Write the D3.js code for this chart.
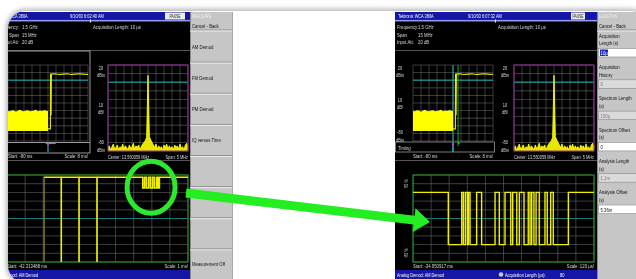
<!DOCTYPE html>
<html>
<head>
<meta charset="utf-8">
<script src="https://d3js.org/d3.v7.min.js"></script>
<style>
 body {margin:0; background:#fff;}
 text {font-family:"Liberation Sans",Arial,sans-serif;}
</style>
</head>
<body>
<svg width=636 height=279></svg>
<script>
var titleText = "Tektronix WCA 380A";
var dateLeft = "9/10/03 6:02:40 AM", dateRight = "9/10/03 6:07:32 AM";
var headerLabels = ["Frequency:", "Span", "Input Att:"];
var headerValues = ["1.5 GHz", "15 MHz", "20 dB"];
var acqText = "Acquisition Length: 10 µs";

// amplitude axis (dBm) of time overview + spectrum
var ampTicks = [20, -30, -80];
var ampTickText = [["20", "dBm"], ["10", "dB/"], ["-80", "dBm"]];

// time overview (ms): noisy burst, then carrier on
var burstT   = [-80,-78,-76,-74,-72,-70,-68,-66,-64,-62,-60,-58,-56,-54,-52,-50,-48,-46,-44,-42,-40];
var burstTop = [-40.5,-41,-39.5,-40,-41.5,-40,-39,-40.5,-41,-40,-39.5,-41,-40.5,-40,-39,-41,-40,-40.5,-39.5,-40,-41];
var burstFloor = -67;
var stepT = [-40,-37.6,-37.5,-37.1,-36.9,-36.6,-33,-29,-25,-21,-17,-13,-9,-5,-1,0];
var stepV = [-64,-64,8,8,-46,8,8.5,7.5,8,8.5,7.5,8,8.5,8,7.5,8];
var spectrumMark = -40;
var analysisStart = {left: -42.313488, right: -34.950917};   // ms
var analysisLength = {left: 10, right: 1.2};                 // ms

// spectrum: 13.560059 MHz centre, 5 MHz span, level per bin (dBm)
var specLevels = [
 -77,-74,-79,-75,-72,-78,-76,-73,-79,-75,
 -77,-72,-78,-74,-76,-79,-73,-77,-75,-71,
 -78,-74,-76,-73,-79,-75,-72,-70,-68,-64,
   8,
 -63,-67,-70,-73,-76,-72,-78,-74,-77,-75,
 -79,-73,-76,-72,-78,-74,-77,-75,-79,-73,
 -76,-74,-78,-72,-77,-75,-79,-73,-71,-76];

// AM demod right: level (%) and switching times (µs from start, 120 µs/div)
var demodHigh = 60, demodLow = -60;
var demodEdges = [234,323,334,347,360,367,378,422,455,544,572,610,648,661,688,705,736,764,776,787,802,816,837,875,890,913,930,1030];
var demodAxis = ["80 %", "0 %", "-80 %"];
// AM demod left: ms from start (1 ms/div)
var leftHigh = 95, leftBurstLow = 70, leftFloor = -100;
var leftDrops = [2.05, 3.0, 3.98, 4.97];
var leftBurstEdges = [7.5,7.6,7.7,7.82,7.92,8.04,8.14,8.26,8.34,8.42];

var measureItems = ["AM Demod","FM Demod","PM Demod","IQ versus Time","","","","Measurement Off"];
var lengthItems = [["Acquisition","Length (s)"],["Acquisition","History"],["Spectrum Length","(s)"],["Spectrum Offset","(s)"],["Analysis Length","(s)"],["Analysis Offset","(s)"]];
var lengthValues = ["10µ","0","150µ","0","1.1m","5.36m"];
var lengthEditable = [true,false,false,true,false,true];

// ---------- drawing ----------
var svg = d3.select("svg");
var defs = svg.append("defs");
defs.append("filter").attr("id","soft").attr("x","-5%").attr("y","-5%").attr("width","110%").attr("height","110%")
  .append("feGaussianBlur").attr("stdDeviation",2.5);
defs.append("filter").attr("id","jpeg").append("feGaussianBlur").attr("stdDeviation",0.3);
defs.append("clipPath").attr("id","card").append("rect")
  .attr("x",8).attr("y",11).attr("width",640).attr("height",272).attr("rx",18);

svg.append("rect").attr("x",6).attr("y",9).attr("width",644).attr("height",276).attr("rx",20)
  .attr("fill","#b4b4b4").attr("filter","url(#soft)");
var card = svg.append("g").attr("clip-path","url(#card)").append("g").attr("filter","url(#jpeg)");
card.append("rect").attr("x",8).attr("y",11).attr("width",640).attr("height",272).attr("fill","#fff");

// the analyzer font is narrow: squeeze Liberation Sans horizontally
function txt(g, x, y, s, o) {
  o = o || {};
  return g.append("text").attr("x",0).attr("y",0).text(s)
    .attr("transform", "translate(" + x + "," + y + ") scale(" + (o.sx || 0.78) + ",1)")
    .attr("font-size", o.size || 5.5)
    .attr("fill", o.fill || "#d8d8d8")
    .attr("text-anchor", o.anchor || "start");
}
function hline(g, x1, x2, y, c, w) {
  g.append("line").attr("x1",x1).attr("x2",x2).attr("y1",y).attr("y2",y).attr("stroke",c).attr("stroke-width",w||1);
}
function vline(g, x, y1, y2, c, w) {
  g.append("line").attr("x1",x).attr("x2",x).attr("y1",y1).attr("y2",y2).attr("stroke",c).attr("stroke-width",w||1);
}

function screen(cfg) {
  var g = card.append("g");
  var w = cfg.x1 - cfg.x0;
  g.append("rect").attr("x",cfg.x0).attr("y",12).attr("width",w).attr("height",268).attr("fill","#000");
  g.append("rect").attr("x",cfg.x0).attr("y",12).attr("width",w).attr("height",8).attr("fill","#1212a6");
  g.append("rect").attr("x",cfg.x0).attr("y",20).attr("width",w).attr("height",2).attr("fill","#2b3fd6");
  hline(g, cfg.x0, cfg.x1, 20.4, "#b8c4ff", 0.8);
  g.append("rect").attr("x",cfg.tick).attr("y",19.5).attr("width",1).attr("height",3).attr("fill","#fff");
  txt(g, cfg.x0 + 3, 18, titleText, {size:5, fill:"#fff"});
  txt(g, cfg.dateX, 18, cfg.date, {size:5, fill:"#fff"});
  g.append("rect").attr("x",cfg.pause[0]).attr("y",12.5).attr("width",cfg.pause[1]).attr("height",7).attr("fill","#ececec");
  txt(g, cfg.pause[0] + cfg.pause[1]/2, 18, "PAUSE", {size:4.8, fill:"#222", anchor:"middle", sx:0.7});
  headerLabels.forEach(function(s, i) {
    txt(g, cfg.labX, 29 + i*7.5, s, {anchor:cfg.labAnchor});
    txt(g, cfg.valX, 29 + i*7.5, headerValues[i]);
  });
  txt(g, cfg.acqX, 29, acqText);
  hline(g, cfg.x0, cfg.x1, 50.5, "#555");
  hline(g, cfg.x0, cfg.x1, 160.5, "#555");
  g.append("rect").attr("x",cfg.x0).attr("y",270).attr("width",w).attr("height",10).attr("fill","#1212a6");
  txt(g, cfg.x0 + 2, 277, "Analog Demod: AM Demod", {size:5, fill:"#fff"});
  return g;
}

function ampLabels(g, y, cx) {
  var offs = [[4.5, 12], [-1, 6], [-7, 0.5]];
  ampTicks.forEach(function(v, i) {
    txt(g, cx, y(v) + offs[i][0], ampTickText[i][0], {size:5, anchor:"middle"});
    txt(g, cx, y(v) + offs[i][1], ampTickText[i][1], {size:5, anchor:"middle"});
  });
}

function grid(g, xr, yr) {
  var dx = d3.scaleLinear().domain([0,10]).range(xr);
  var dy = d3.scaleLinear().domain([0,10]).range(yr);
  var gg = g.append("g");
  dx.ticks(10).forEach(function(t){ vline(gg, dx(t), yr[0], yr[1], "#686868", 0.6); });
  dy.ticks(10).forEach(function(t){ hline(gg, xr[0], xr[1], dy(t), "#686868", 0.6); });
}

function timePanel(g, cfg) {
  var x = d3.scaleLinear().domain([-80,0]).range(cfg.tx);
  var y = d3.scaleLinear().domain([20,-80]).range([65,141]);
  grid(g, cfg.tx, [65,141]);
  hline(g, cfg.tx[0], cfg.tx[1], y(0), "#1aa8a8", 1);
  if (cfg.markLines) {
    vline(g, x(spectrumMark), 65, 152, "#1aa8a8", 1);
    vline(g, x(analysisStart.right), 65, 146, "#1faa1f", 1);
  }
  g.append("path").datum(burstT)
    .attr("d", d3.area().x(function(t){return x(t);}).y0(y(burstFloor)).y1(function(t,i){return y(burstTop[i]);}))
    .attr("fill","#ffff00");
  g.append("path").datum(stepT)
    .attr("d", d3.line().x(function(t){return x(t);}).y(function(t,i){return y(stepV[i]);}))
    .attr("fill","none").attr("stroke","#e8e800").attr("stroke-width",1.1);
  ampLabels(g, y, cfg.tLab);
  // timing strip
  var a0 = x(analysisStart[cfg.side]), a1 = x(analysisStart[cfg.side] + analysisLength[cfg.side]);
  g.append("rect").attr("x",a0).attr("y",142.2).attr("width",Math.max(a1 - a0, 1.5)).attr("height",1.8).attr("fill","#22cc22");
  vline(g, x(spectrumMark), 143, 152, "#1ab8c8", 1.2);
  g.append("rect").attr("x",x(spectrumMark) - 1).attr("y",143).attr("width",2).attr("height",2).attr("fill","#d040d0");
  txt(g, cfg.tx[0], 157.5, "Start: -80 ms");
  txt(g, cfg.tx[1], 157.5, "Scale: 8 ms/", {anchor:"end"});
  return x;
}

function specPanel(g, cfg) {
  var x = d3.scaleLinear().domain([0, specLevels.length - 1]).range(cfg.sx);
  var y = d3.scaleLinear().domain([20,-80]).range([65,151]);
  grid(g, cfg.sx, [65,151]);
  hline(g, cfg.sx[0], cfg.sx[1], y(0), "#1aa8a8", 1);
  g.append("path").datum(specLevels)
    .attr("d", d3.area().x(function(d,i){return x(i);}).y0(y(-80)).y1(function(d){return y(d);}))
    .attr("fill","#e6e600");
  g.append("path").datum(specLevels)
    .attr("d", d3.line().x(function(d,i){return x(i);}).y(function(d){return y(d);}))
    .attr("fill","none").attr("stroke","#ffff00").attr("stroke-width",0.9);
  g.append("rect").attr("x",cfg.sx[0]).attr("y",65).attr("width",cfg.sx[1]-cfg.sx[0]).attr("height",86)
    .attr("fill","none").attr("stroke","#9a2aa0").attr("stroke-width",1);
  ampLabels(g, y, cfg.sLab);
  txt(g, cfg.sx[0], 159, "Center: 13.560059 MHz", {size:5});
  txt(g, cfg.sx[1], 159, "Span: 5 MHz", {anchor:"end", size:5});
}

function demodFrame(g, dx) {
  var y = d3.scaleLinear().domain([100,-100]).range([175,262]);
  grid(g, dx, [175,262]);
  hline(g, dx[0], dx[1], y(0), "#148c8c", 0.8);
  g.append("rect").attr("x",dx[0]).attr("y",175).attr("width",dx[1]-dx[0]).attr("height",87)
    .attr("fill","none").attr("stroke","#1e9e1e").attr("stroke-width",1);
  return y;
}

// ----- left screen (MEASURE menu) -----
var L = screen({x0:-11, x1:190, tick:90, date:dateLeft, dateX:70, pause:[165,20], labX:19, labAnchor:"end", valX:22, acqX:93});
L.append("rect").attr("x",0).attr("y",51).attr("width",90).attr("height",102)
  .attr("fill","none").attr("stroke","#9a9a9a").attr("stroke-width",1);
timePanel(L, {tx:[8,88], tLab:-5, side:"left", markLines:false});
hline(L, 0, 90, 142.5, "#9a9a9a");
specPanel(L, {sx:[108,188], sLab:101});
var yL = demodFrame(L, [7,188]);
var xL = d3.scaleLinear().domain([0,10]).range([7,188]);
vline(L, xL(leftDrops[0]), yL(leftHigh), yL(leftFloor), "#8c8c1c", 1.2);
var lp = d3.path();
lp.moveTo(xL(leftDrops[0]), yL(leftHigh));
leftDrops.slice(1).forEach(function(t) {
  lp.lineTo(xL(t), yL(leftHigh)); lp.lineTo(xL(t), yL(leftFloor)); lp.lineTo(xL(t), yL(leftHigh));
});
var lev = leftHigh;
leftBurstEdges.forEach(function(t) {
  lp.lineTo(xL(t), yL(lev));
  lev = (lev === leftHigh) ? leftBurstLow : leftHigh;
  lp.lineTo(xL(t), yL(lev));
});
lp.lineTo(xL(10), yL(lev));
L.append("path").attr("d", lp.toString()).attr("fill","none").attr("stroke","#f0f000").attr("stroke-width",1.6);
txt(L, 7, 268, "Start: -42.313488 ms");
txt(L, 188, 268, "Scale: 1 ms/", {anchor:"end"});

// ----- right screen (LENGTHS menu) -----
var R = screen({x0:395, x1:597, tick:495, date:dateRight, dateX:468, pause:[571,14], labX:397, labAnchor:"start", valX:418, acqX:498});
R.append("rect").attr("x",395.5).attr("y",142).attr("width",99).attr("height",10)
  .attr("fill","none").attr("stroke","#9a9a9a").attr("stroke-width",0.8);
txt(R, 398, 149.5, "Timing");
timePanel(R, {tx:[413,493], tLab:400, side:"right", markLines:true});
specPanel(R, {sx:[514,594], sLab:505});
var yR = demodFrame(R, [413,594]);
var xR = d3.scaleLinear().domain([0,1200]).range([413,594]);
var pts = [[0, demodHigh]], lv = demodHigh;
demodEdges.forEach(function(e) {
  var nx = (lv === demodHigh) ? demodLow : demodHigh;
  pts.push([e, lv], [e, nx]);
  lv = nx;
});
pts.push([1200, lv]);
R.append("path").datum(pts)
  .attr("d", d3.line().x(function(d){return xR(d[0]);}).y(function(d){return yR(d[1]);}))
  .attr("fill","none").attr("stroke","#f0f000").attr("stroke-width",1.4);
[80, 0, -80].forEach(function(v, i) {
  txt(R, 0, 0, demodAxis[i], {size:4.5, anchor:"middle"})
    .attr("transform", "translate(408," + yR(v) + ") rotate(-90) scale(0.8,1)");
});
txt(R, 413, 268, "Start: -34.950917 ms");
txt(R, 594, 268, "Scale: 120 µs/", {anchor:"end"});
R.append("circle").attr("cx",501).attr("cy",274.5).attr("r",2.3).attr("fill","#c8c8c8");
txt(R, 505, 277, "Acquisition Length (µs):", {size:5, fill:"#fff"});
txt(R, 560, 277, "80", {size:5, fill:"#fff"});

// ----- side menus -----
function menuPanel(x0, x1, title) {
  var g = card.append("g");
  g.append("rect").attr("x",x0).attr("y",12).attr("width",x1-x0).attr("height",268).attr("fill","#c6c6c6");
  vline(g, x0 + 0.5, 12, 280, "#8a8a8a");
  txt(g, x0 + 2, 17.5, title, {size:5, fill:"#efefef"});
  txt(g, x0 + 2, 27.5, "Cancel - Back", {fill:"#111"});
  hline(g, x0, x1, 30, "#8e8e8e"); hline(g, x0, x1, 31, "#ececec");
  return g;
}
var ML = menuPanel(190, 233, "MEASURE");
var bandL = d3.scaleBand().domain(d3.range(measureItems.length)).range([31, 280]);
measureItems.forEach(function(s, i) {
  var top = bandL(i), bw = bandL.bandwidth();
  if (s) txt(ML, 192, top + bw/2 + 2, s, {fill:"#111"});
  if (i < measureItems.length - 1) { hline(ML, 190, 233, top + bw, "#8e8e8e"); hline(ML, 190, 233, top + bw + 1, "#ececec"); }
});
vline(ML, 232.5, 12, 280, "#a8a8a8");

var MR = menuPanel(597, 640, "LENGTHS");
var bandR = d3.scaleBand().domain(d3.range(lengthItems.length)).range([30, 30 + 6*31.3]);
lengthItems.forEach(function(lab, i) {
  var top = bandR(i);
  txt(MR, 599, top + 7.8, lab[0], {fill:"#111"});
  txt(MR, 599, top + 15.3, lab[1], {fill:"#111"});
  MR.append("rect").attr("x",598.5).attr("y",top + 18.5).attr("width",42).attr("height",8.5)
    .attr("fill", lengthEditable[i] ? "#fff" : "#dadada").attr("stroke","#8a8a8a").attr("stroke-width",0.6);
  if (i === 0) MR.append("rect").attr("x",600).attr("y",top + 19.5).attr("width",8).attr("height",6.5).attr("fill","#1a2ac0");
  txt(MR, 600.5, top + 25, lengthValues[i], {fill: i === 0 ? "#fff" : (lengthEditable[i] ? "#111" : "#777")});
});

// ----- annotation: circle round the left burst, arrow to the right demod trace -----
card.append("ellipse").attr("cx",xL(7.96)).attr("cy",yL(72)).attr("rx",24).attr("ry",26)
  .attr("fill","none").attr("stroke","#2ee82e").attr("stroke-width",5);
var S = [xL(10) - 2, 193], T = [xR(0) + 17, yR(0) + 3.5];
var len = Math.hypot(T[0]-S[0], T[1]-S[1]);
var u = [(T[0]-S[0])/len, (T[1]-S[1])/len], n = [-u[1], u[0]];
var B = [T[0] - 16*u[0], T[1] - 16*u[1]];
function off(p, k) { return [p[0] + k*n[0], p[1] + k*n[1]]; }
var arrow = [off(S,-4.5), off(B,-4.5), off(B,-12), T, off(B,12), off(B,4.5), off(S,4.5)];
card.append("polygon").attr("points", arrow.map(function(p){return p.join(",");}).join(" "))
  .attr("fill","#22ee22");
</script>
</body>
</html>
